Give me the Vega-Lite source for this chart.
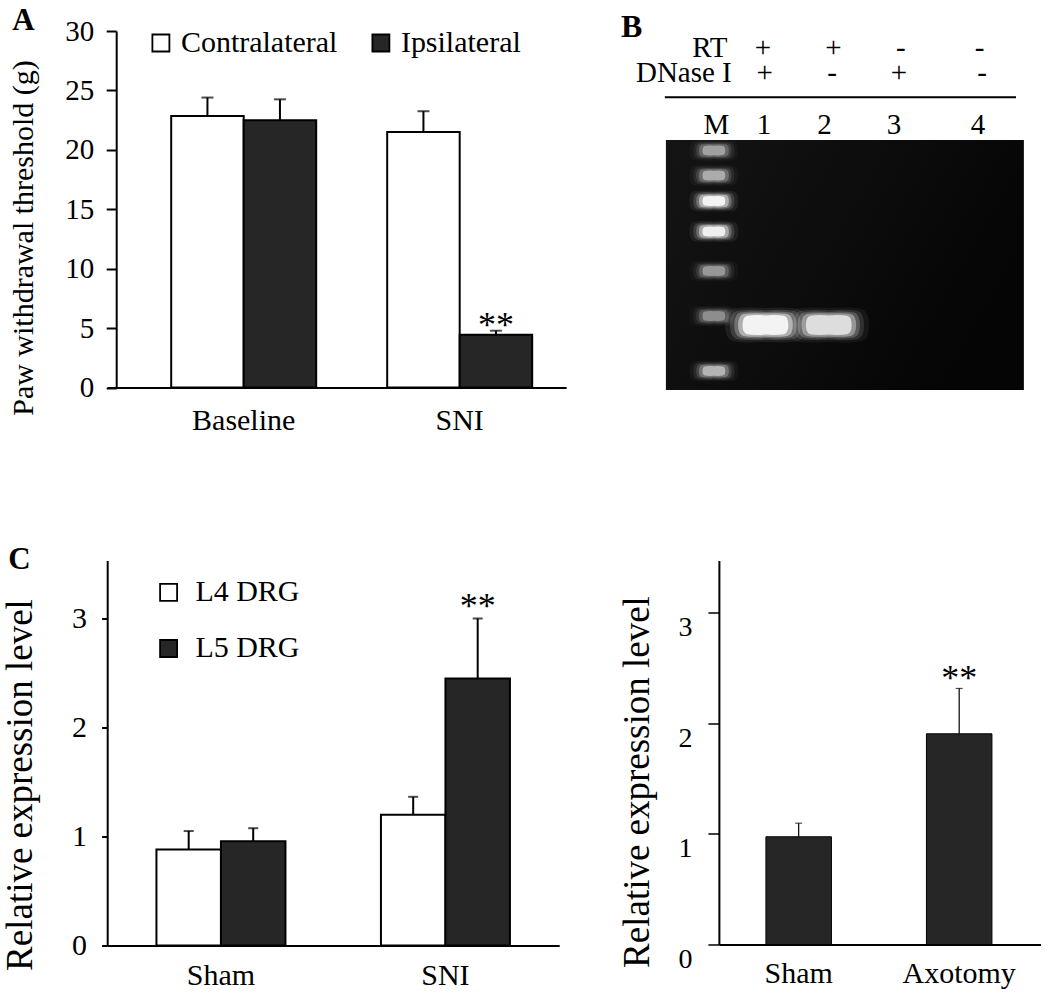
{
  "$schema": "https://vega.github.io/schema/vega-lite/v6.json",
  "background": "white",
  "padding": {"left": 1.2, "top": 5, "right": 0, "bottom": 0},
  "autosize": {"type": "pad"},
  "bounds": "flush",
  "columns": 2,
  "align": "each",
  "spacing": {"row": 172.5, "column": 152.7},
  "resolve": {"scale": {"fill": "independent", "xOffset": "independent"}, "legend": {"fill": "independent"}},
  "config": {
    "view": {"stroke": null},
    "font": "Liberation Serif",
    "axis": {"labelFont": "Liberation Serif", "titleFont": "Liberation Serif", "labelColor": "black", "titleColor": "black", "domainColor": "black", "tickColor": "black", "grid": false, "titleFontWeight": "normal"},
    "legend": {"labelFont": "Liberation Serif", "labelColor": "black"},
    "title": {"font": "Liberation Serif", "fontWeight": "bold", "fontSize": 31, "anchor": "start", "frame": "group", "baseline": "alphabetic", "color": "black"}
  },
  "datasets": {
    "a": [
      {"condition": "Baseline", "side": "Contralateral", "mean": 22.85, "upper": 24.4, "sig": ""},
      {"condition": "Baseline", "side": "Ipsilateral", "mean": 22.5, "upper": 24.25, "sig": ""},
      {"condition": "SNI", "side": "Contralateral", "mean": 21.5, "upper": 23.25, "sig": ""},
      {"condition": "SNI", "side": "Ipsilateral", "mean": 4.43, "upper": 4.78, "sig": "**"}
    ],
    "c1": [
      {"group": "Sham", "drg": "L4 DRG", "mean": 0.88, "upper": 1.05, "sig": ""},
      {"group": "Sham", "drg": "L5 DRG", "mean": 0.957, "upper": 1.076, "sig": ""},
      {"group": "SNI", "drg": "L4 DRG", "mean": 1.2, "upper": 1.364, "sig": ""},
      {"group": "SNI", "drg": "L5 DRG", "mean": 2.45, "upper": 3.0, "sig": "**"}
    ],
    "c2": [
      {"group": "Sham", "mean": 0.974, "upper": 1.097, "sig": ""},
      {"group": "Axotomy", "mean": 1.905, "upper": 2.315, "sig": "**"}
    ],
    "gel_bands": [
      {"lane": "M", "x": 13.4, "y": 4.2, "kind": "ladder", "intensity": 0.45},
      {"lane": "M", "x": 13.4, "y": 14.2, "kind": "ladder", "intensity": 0.5},
      {"lane": "M", "x": 13.4, "y": 24.4, "kind": "ladder", "intensity": 1.0},
      {"lane": "M", "x": 13.4, "y": 36.6, "kind": "ladder", "intensity": 0.95},
      {"lane": "M", "x": 13.4, "y": 52.4, "kind": "ladder", "intensity": 0.42},
      {"lane": "M", "x": 13.4, "y": 70.4, "kind": "ladder", "intensity": 0.38},
      {"lane": "M", "x": 13.4, "y": 92.4, "kind": "ladder", "intensity": 0.55},
      {"lane": "1", "x": 27.8, "y": 74.0, "kind": "sample", "intensity": 1.0},
      {"lane": "2", "x": 45.5, "y": 74.0, "kind": "sample", "intensity": 0.8}
    ],
    "gel_text": [
      {"text": "RT", "x": 17.2, "y": -33.1, "role": "row"},
      {"text": "DNase I", "x": 18.4, "y": -23.1, "role": "row"},
      {"text": "+", "x": 27.1, "y": -33.1, "role": "cell"},
      {"text": "+", "x": 46.8, "y": -33.1, "role": "cell"},
      {"text": "-", "x": 65.6, "y": -33.1, "role": "cell"},
      {"text": "-", "x": 87.6, "y": -33.1, "role": "cell"},
      {"text": "+", "x": 27.6, "y": -23.1, "role": "cell"},
      {"text": "-", "x": 46.4, "y": -23.1, "role": "cell"},
      {"text": "+", "x": 65.1, "y": -23.1, "role": "cell"},
      {"text": "-", "x": 88.3, "y": -23.1, "role": "cell"},
      {"text": "M", "x": 14.1, "y": -2.4, "role": "cell"},
      {"text": "1", "x": 27.4, "y": -2.4, "role": "cell"},
      {"text": "2", "x": 44.3, "y": -2.4, "role": "cell"},
      {"text": "3", "x": 63.7, "y": -2.4, "role": "cell"},
      {"text": "4", "x": 87.2, "y": -2.4, "role": "cell"}
    ]
  },
  "concat": [
    {
      "width": 459,
      "height": 356.5,
      "title": {"text": "A", "dx": -95, "offset": -20},
      "data": {"name": "a"},
      "encoding": {
        "x": {"field": "condition", "type": "nominal", "sort": ["Baseline", "SNI"],
              "scale": {"paddingInner": 0.3287, "paddingOuter": 0.2269, "align": 0.653},
              "axis": {"title": null, "labelFontSize": 30, "ticks": false, "tickSize": 0, "labelPadding": 41.7, "labelBaseline": "alphabetic", "labelAngle": 0, "domainWidth": 2}},
        "xOffset": {"field": "side", "type": "nominal", "sort": ["Contralateral", "Ipsilateral"], "scale": {"paddingInner": 0, "paddingOuter": 0}}
      },
      "layer": [
        {
          "mark": {"type": "bar", "stroke": "black", "strokeWidth": 2},
          "encoding": {
            "y": {"field": "mean", "type": "quantitative", "scale": {"domain": [0, 30], "nice": false},
                  "axis": {"values": [0, 5, 10, 15, 20, 25, 30], "format": "d", "offset": -9, "tickSize": 10, "tickWidth": 2, "domainWidth": 2, "labelFontSize": 29, "labelPadding": 12.4, "title": "Paw withdrawal threshold (g)", "titleFontSize": 30, "titlePadding": 26, "titleY": 206.5}},
            "fill": {"field": "side", "type": "nominal", "sort": ["Contralateral", "Ipsilateral"],
                     "scale": {"range": ["white", "#262626"]},
                     "legend": {"orient": "none", "legendX": 38.7, "legendY": -3, "direction": "horizontal", "title": null, "symbolType": "square", "symbolSize": 289, "symbolStrokeColor": "black", "symbolStrokeWidth": 1.8, "labelFontSize": 30, "labelOffset": 5, "columnPadding": 28, "padding": 0, "labelLimit": 400}}
          }
        },
        {
          "mark": {"type": "rule", "strokeWidth": 2, "color": "black"},
          "encoding": {"y": {"field": "mean", "type": "quantitative"}, "y2": {"field": "upper"}}
        },
        {
          "mark": {"type": "tick", "orient": "horizontal", "size": 12, "thickness": 2, "color": "black"},
          "encoding": {"y": {"field": "upper", "type": "quantitative"}}
        },
        {
          "transform": [{"filter": "datum.sig == '**'"}],
          "mark": {"type": "text", "fontSize": 36, "baseline": "alphabetic", "dy": 6, "color": "black", "font": "Liberation Serif"},
          "encoding": {"y": {"field": "upper", "type": "quantitative"}, "text": {"field": "sig"}}
        }
      ]
    },
    {
      "width": 322,
      "height": 356.5,
      "title": {"text": "B", "dx": -98, "offset": -12.7, "fontSize": 32},
      "layer": [
        {
          "data": {"values": [{"part": "gel"}]},
          "mark": {"type": "rect", "fill": {"gradient": "linear", "x1": 0, "y1": 0, "x2": 1, "y2": 0.4, "stops": [{"offset": 0, "color": "#141414"}, {"offset": 0.55, "color": "#0c0c0c"}, {"offset": 1, "color": "#050505"}]}},
          "encoding": {
            "x": {"datum": 0, "type": "quantitative", "scale": {"domain": [14.8, 104.75], "nice": false, "zero": false}, "axis": null},
            "x2": {"datum": 100},
            "y": {"datum": 0, "type": "quantitative", "scale": {"domain": [-43.6, 99], "reverse": true, "nice": false, "zero": false}, "axis": null},
            "y2": {"datum": 100}
          }
        },
        {
          "data": {"values": [{"part": "line"}]},
          "mark": {"type": "rule", "strokeWidth": 2, "color": "black"},
          "encoding": {
            "x": {"datum": -0.3, "type": "quantitative"},
            "x2": {"datum": 97.8},
            "y": {"datum": -17.1, "type": "quantitative"}
          }
        },
        {
          "data": {"name": "gel_bands"},
          "mark": {"type": "point", "filled": true, "color": "white", "strokeWidth": 0, "shape": "M-0.8,-0.4Q-0.5,-0.45,0,-0.42Q0.5,-0.45,0.8,-0.4Q1,-0.35,1,0Q1,0.35,0.8,0.4Q0.5,0.45,0,0.42Q-0.5,0.45,-0.8,0.4Q-1,0.35,-1,0Q-1,-0.35,-0.8,-0.4Z"},
          "encoding": {
            "x": {"field": "x", "type": "quantitative"},
            "y": {"field": "y", "type": "quantitative"},
            "size": {"field": "kind", "type": "ordinal", "scale": {"domain": ["ladder", "sample"], "range": [2400, 6500]}, "legend": null},
            "opacity": {"field": "intensity", "type": "quantitative", "scale": {"domain": [0, 1], "range": [0, 0.07]}, "legend": null}
          }
        },
        {
          "data": {"name": "gel_bands"},
          "mark": {"type": "point", "filled": true, "color": "white", "strokeWidth": 0, "shape": "M-0.8,-0.4Q-0.5,-0.45,0,-0.42Q0.5,-0.45,0.8,-0.4Q1,-0.35,1,0Q1,0.35,0.8,0.4Q0.5,0.45,0,0.42Q-0.5,0.45,-0.8,0.4Q-1,0.35,-1,0Q-1,-0.35,-0.8,-0.4Z"},
          "encoding": {
            "x": {"field": "x", "type": "quantitative"},
            "y": {"field": "y", "type": "quantitative"},
            "size": {"field": "kind", "type": "ordinal", "scale": {"domain": ["ladder", "sample"], "range": [1700, 5000]}, "legend": null},
            "opacity": {"field": "intensity", "type": "quantitative", "scale": {"domain": [0, 1], "range": [0, 0.14]}, "legend": null}
          }
        },
        {
          "data": {"name": "gel_bands"},
          "mark": {"type": "point", "filled": true, "color": "white", "strokeWidth": 0, "shape": "M-0.8,-0.4Q-0.5,-0.45,0,-0.42Q0.5,-0.45,0.8,-0.4Q1,-0.35,1,0Q1,0.35,0.8,0.4Q0.5,0.45,0,0.42Q-0.5,0.45,-0.8,0.4Q-1,0.35,-1,0Q-1,-0.35,-0.8,-0.4Z"},
          "encoding": {
            "x": {"field": "x", "type": "quantitative"},
            "y": {"field": "y", "type": "quantitative"},
            "size": {"field": "kind", "type": "ordinal", "scale": {"domain": ["ladder", "sample"], "range": [1250, 3900]}, "legend": null},
            "opacity": {"field": "intensity", "type": "quantitative", "scale": {"domain": [0, 1], "range": [0, 0.25]}, "legend": null}
          }
        },
        {
          "data": {"name": "gel_bands"},
          "mark": {"type": "point", "filled": true, "color": "white", "strokeWidth": 0, "shape": "M-0.8,-0.4Q-0.5,-0.45,0,-0.42Q0.5,-0.45,0.8,-0.4Q1,-0.35,1,0Q1,0.35,0.8,0.4Q0.5,0.45,0,0.42Q-0.5,0.45,-0.8,0.4Q-1,0.35,-1,0Q-1,-0.35,-0.8,-0.4Z"},
          "encoding": {
            "x": {"field": "x", "type": "quantitative"},
            "y": {"field": "y", "type": "quantitative"},
            "size": {"field": "kind", "type": "ordinal", "scale": {"domain": ["ladder", "sample"], "range": [900, 3000]}, "legend": null},
            "opacity": {"field": "intensity", "type": "quantitative", "scale": {"domain": [0, 1], "range": [0, 0.45]}, "legend": null}
          }
        },
        {
          "data": {"name": "gel_bands"},
          "mark": {"type": "point", "filled": true, "color": "white", "strokeWidth": 0, "shape": "M-0.8,-0.4Q-0.5,-0.45,0,-0.42Q0.5,-0.45,0.8,-0.4Q1,-0.35,1,0Q1,0.35,0.8,0.4Q0.5,0.45,0,0.42Q-0.5,0.45,-0.8,0.4Q-1,0.35,-1,0Q-1,-0.35,-0.8,-0.4Z"},
          "encoding": {
            "x": {"field": "x", "type": "quantitative"},
            "y": {"field": "y", "type": "quantitative"},
            "size": {"field": "kind", "type": "ordinal", "scale": {"domain": ["ladder", "sample"], "range": [520, 2100]}, "legend": null},
            "opacity": {"field": "intensity", "type": "quantitative", "scale": {"domain": [0, 1], "range": [0, 0.85]}, "legend": null}
          }
        },
        {
          "data": {"name": "gel_text"},
          "transform": [{"filter": "datum.role == 'row'"}],
          "mark": {"type": "text", "align": "right", "baseline": "alphabetic", "fontSize": 29, "color": "black", "font": "Liberation Serif"},
          "encoding": {
            "x": {"field": "x", "type": "quantitative"},
            "y": {"field": "y", "type": "quantitative"},
            "text": {"field": "text"}
          }
        },
        {
          "data": {"name": "gel_text"},
          "transform": [{"filter": "datum.role == 'cell'"}],
          "mark": {"type": "text", "align": "center", "baseline": "alphabetic", "fontSize": 29, "color": "black", "font": "Liberation Serif"},
          "encoding": {
            "x": {"field": "x", "type": "quantitative"},
            "y": {"field": "y", "type": "quantitative"},
            "text": {"field": "text"}
          }
        }
      ],
      "resolve": {"scale": {"size": "independent", "opacity": "independent"}}
    },
    {
      "width": 452,
      "height": 385,
      "title": {"text": "C", "dx": -99, "offset": -16},
      "data": {"name": "c1"},
      "encoding": {
        "x": {"field": "group", "type": "nominal", "sort": ["Sham", "SNI"],
              "scale": {"paddingInner": 0.4254, "paddingOuter": 0.2194, "align": 0.5},
              "axis": {"title": null, "labelFontSize": 30, "ticks": false, "tickSize": 0, "labelPadding": 39, "labelBaseline": "alphabetic", "labelAngle": 0, "domainWidth": 2}},
        "xOffset": {"field": "drg", "type": "nominal", "sort": ["L4 DRG", "L5 DRG"], "scale": {"paddingInner": 0, "paddingOuter": 0}}
      },
      "layer": [
        {
          "mark": {"type": "bar", "stroke": "black", "strokeWidth": 2},
          "encoding": {
            "y": {"field": "mean", "type": "quantitative", "scale": {"domain": [0, 3.532], "nice": false},
                  "axis": {"values": [0, 1, 2, 3], "format": "d", "tickSize": 5.6, "tickWidth": 2, "domainWidth": 2, "labelFontSize": 30, "labelPadding": 15.2, "title": "Relative expression level", "titleFontSize": 37, "titlePadding": 31.4, "titleY": 224}},
            "fill": {"field": "drg", "type": "nominal", "sort": ["L4 DRG", "L5 DRG"],
                     "scale": {"range": ["white", "#262626"]},
                     "legend": {"orient": "none", "legendX": 46.4, "legendY": 16.8, "direction": "vertical", "title": null, "symbolType": "square", "symbolSize": 289, "symbolStrokeColor": "black", "symbolStrokeWidth": 1.8, "labelFontSize": 30, "labelOffset": 11.8, "rowPadding": 26.2, "padding": 0, "labelLimit": 400}}
          }
        },
        {
          "mark": {"type": "rule", "strokeWidth": 2, "color": "black"},
          "encoding": {"y": {"field": "mean", "type": "quantitative"}, "y2": {"field": "upper"}}
        },
        {
          "mark": {"type": "tick", "orient": "horizontal", "size": 10, "thickness": 2, "color": "black"},
          "encoding": {"y": {"field": "upper", "type": "quantitative"}}
        },
        {
          "transform": [{"filter": "datum.sig == '**'"}],
          "mark": {"type": "text", "fontSize": 36, "baseline": "alphabetic", "dy": 0, "color": "black", "font": "Liberation Serif"},
          "encoding": {"y": {"field": "upper", "type": "quantitative"}, "text": {"field": "sig"}}
        }
      ]
    },
    {
      "width": 322,
      "height": 384,
      "data": {"name": "c2"},
      "encoding": {
        "x": {"field": "group", "type": "nominal", "sort": ["Sham", "Axotomy"],
              "scale": {"paddingInner": 0.592, "paddingOuter": 0.299, "align": 0.49},
              "axis": {"title": null, "labelFontSize": 30, "ticks": false, "tickSize": 0, "labelPadding": 38, "labelBaseline": "alphabetic", "labelAngle": 0, "domainWidth": 2}}
      },
      "layer": [
        {
          "mark": {"type": "bar", "stroke": "black", "strokeWidth": 1, "fill": "#262626"},
          "encoding": {
            "y": {"field": "mean", "type": "quantitative", "scale": {"domain": [0, 3.472], "nice": false},
                  "axis": {"values": [0, 1, 2, 3], "format": "d", "tickSize": 11, "tickWidth": 1.5, "domainWidth": 2, "labelFontSize": 28, "labelPadding": 16, "labelOffset": 15, "title": "Relative expression level", "titleFontSize": 37, "titlePadding": 21.2, "titleY": 221}}
          }
        },
        {
          "mark": {"type": "rule", "strokeWidth": 1.2, "color": "black"},
          "encoding": {"y": {"field": "mean", "type": "quantitative"}, "y2": {"field": "upper"}}
        },
        {
          "mark": {"type": "tick", "orient": "horizontal", "size": 7, "thickness": 1.2, "color": "black"},
          "encoding": {"y": {"field": "upper", "type": "quantitative"}}
        },
        {
          "transform": [{"filter": "datum.sig == '**'"}],
          "mark": {"type": "text", "fontSize": 36, "baseline": "alphabetic", "dy": 2, "color": "black", "font": "Liberation Serif"},
          "encoding": {"y": {"field": "upper", "type": "quantitative"}, "text": {"field": "sig"}}
        }
      ]
    }
  ]
}
